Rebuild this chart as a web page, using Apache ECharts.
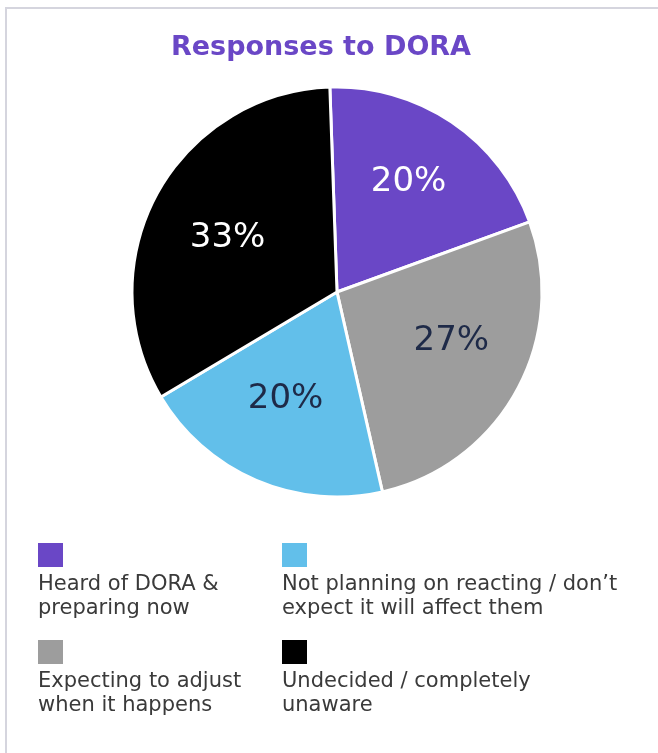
<!DOCTYPE html>
<html><head><meta charset="utf-8">
<script src="https://cdn.jsdelivr.net/npm/echarts@6/dist/echarts.min.js"></script>
<style>html,body{margin:0;padding:0;background:#fff}#c{width:658px;height:753px}</style>
</head><body><div id="c"></div>
<script>
var categories = ['Heard of DORA & preparing now', 'Expecting to adjust when it happens', 'Not planning on reacting / don\u2019t expect it will affect them', 'Undecided / completely unaware'];
var legendLines = [['Heard of DORA &', 'preparing now'], ['Expecting to adjust', 'when it happens'], ['Not planning on reacting / don\u2019t', 'expect it will affect them'], ['Undecided / completely', 'unaware']];
var values = [20, 27, 20, 33];
var colors = ['#6a47c6', '#9d9d9d', '#62bfea', '#000000'];
var labelColors = ['#ffffff', '#1e2a48', '#1e2a48', '#ffffff'];
var labelOffsets = [[0, -4], [2, -12], [-1, -10], [3, 7]];

var FONT = '"DejaVu Sans"';
var chart = echarts.init(document.getElementById('c'));
var data = categories.map(function (c, i) { return { name: c, value: values[i], itemStyle: { color: colors[i] } }; });
var labelData = categories.map(function (c, i) { return { name: c, value: values[i], label: { color: labelColors[i], offset: labelOffsets[i] } }; });

var graphics = [{
  type: 'polyline', shape: { points: [[6, 753], [6, 8], [658, 8]] },
  style: { stroke: '#d5d5de', lineWidth: 2, fill: null }, silent: true
}];
var legPos = [[38, 543], [38, 640], [282, 543], [282, 640]];
categories.forEach(function (c, i) {
  var p = legPos[i];
  graphics.push({ type: 'rect', shape: { x: p[0], y: p[1], width: 25, height: 24 }, style: { fill: colors[i] } });
  graphics.push({ type: 'text', x: p[0], y: p[1] + 30, style: { text: legendLines[i].join('\n'), font: '21px ' + FONT, fill: '#3a3a3a', lineHeight: 24, textVerticalAlign: 'top' } });
});

chart.setOption({
  backgroundColor: '#ffffff',
  title: { text: 'Responses to DORA', left: 316, top: 29, textAlign: 'center',
    textStyle: { color: '#6a47c6', fontSize: 27, fontWeight: 'bold', fontFamily: FONT } },
  animation: false,
  series: [{
    type: 'pie', center: [337, 292], radius: [0, 205], startAngle: 92, clockwise: true,
    label: { show: false }, labelLine: { show: false },
    itemStyle: { borderColor: '#ffffff', borderWidth: 3 },
    data: data, silent: true
  }, {
    type: 'pie', center: [337, 292], radius: [45, 205], startAngle: 92, clockwise: true,
    itemStyle: { color: 'rgba(0,0,0,0)' },
    label: { show: true, position: 'inside', formatter: '{c}%', fontSize: 34, fontFamily: FONT },
    labelLine: { show: false },
    data: labelData, silent: true
  }],
  graphic: graphics
});
</script></body></html>
